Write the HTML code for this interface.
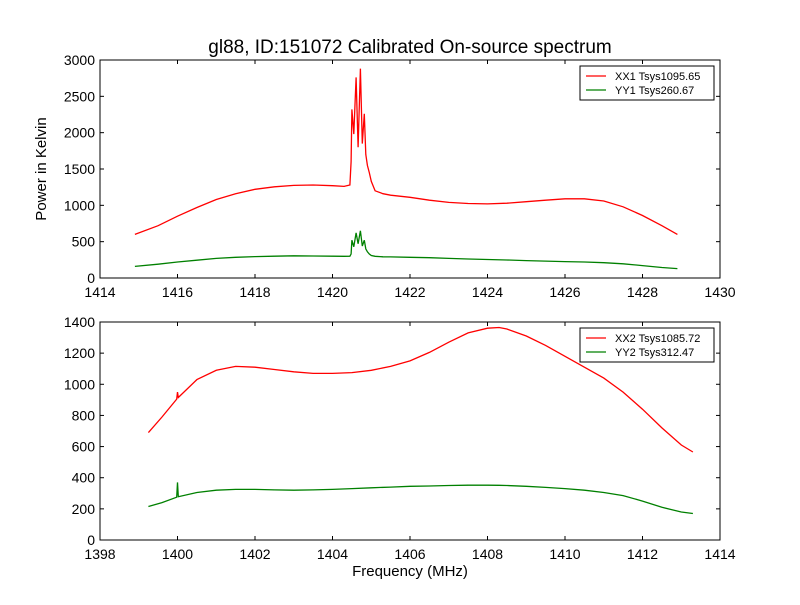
<!DOCTYPE html>
<html><head><meta charset="utf-8"><style>
body{margin:0;background:#fff;}
svg text{font-family:"Liberation Sans",sans-serif;}
</style></head><body>
<svg id="chart" width="800" height="600" xmlns="http://www.w3.org/2000/svg"></svg>
<script>
// Top panel data
const topFreq = [1414.9,1415.5,1416,1416.5,1417,1417.5,1418,1418.5,1419,1419.5,1420,1420.3,1420.45,1420.48,1420.5,1420.55,1420.61,1420.66,1420.72,1420.77,1420.82,1420.86,1420.9,1420.95,1421.0,1421.1,1421.3,1421.5,1422,1422.5,1423,1423.5,1424,1424.5,1425,1425.5,1426,1426.5,1427,1427.5,1428,1428.5,1428.9];
const topXX1 = [600,720,850,970,1080,1160,1220,1255,1275,1280,1270,1260,1280,1600,2320,1980,2760,1800,2880,1850,2260,1700,1550,1450,1330,1200,1160,1140,1110,1070,1040,1025,1020,1030,1050,1070,1090,1090,1060,980,860,720,600];
const topYY1 = [160,190,220,245,270,285,295,300,305,303,300,298,300,330,520,430,620,470,650,440,520,400,360,330,310,298,292,290,285,280,270,262,255,248,240,232,225,220,210,195,170,145,130];
// Bottom panel data
const botFreq = [1399.25,1399.6,1399.98,1400.0,1400.02,1400.5,1401,1401.5,1402,1402.5,1403,1403.5,1404,1404.5,1405,1405.5,1406,1406.5,1407,1407.5,1408,1408.3,1408.5,1409,1409.5,1410,1410.5,1411,1411.5,1412,1412.5,1413,1413.3];
const botXX2 = [690,790,905,950,915,1030,1090,1115,1110,1095,1080,1070,1070,1075,1090,1115,1150,1205,1270,1330,1360,1365,1355,1310,1250,1180,1110,1040,950,840,720,610,565];
const botYY2 = [215,240,275,370,278,305,320,325,325,322,320,322,325,330,335,340,345,347,350,352,352,351,350,345,338,330,320,305,285,250,210,180,170];
const topXTicks=[1414,1416,1418,1420,1422,1424,1426,1428,1430];
const topYTicks=[0,500,1000,1500,2000,2500,3000];
const botXTicks=[1398,1400,1402,1404,1406,1408,1410,1412,1414];
const botYTicks=[0,200,400,600,800,1000,1200,1400];

const NS="http://www.w3.org/2000/svg";
const svg=document.getElementById('chart');
function mk(tag,attrs,parent){const e=document.createElementNS(NS,tag);for(const k in attrs)e.setAttribute(k,attrs[k]);(parent||svg).appendChild(e);return e;}

function panel(name,top,xmin,xmax,ymax,xt,yt,freq,s1,s2,l1,l2){
  const L=100,R=720,T=top,B=top+218;
  const xs=v=>L+(v-xmin)/(xmax-xmin)*(R-L);
  const ys=v=>B-v/ymax*(B-T);
  const g=mk('g',{});
  
  
  mk('rect',{x:L,y:T,width:R-L,height:B-T,fill:'#fff',stroke:'none'},g);
  [[s1,'#ff0000',name+'-xx-line'],[s2,'#008000',name+'-yy-line']].forEach(([s,c,n])=>{
    const p=mk('polyline',{points:freq.map((f,i)=>xs(f).toFixed(1)+','+ys(s[i]).toFixed(1)).join(' '),fill:'none',stroke:c,'stroke-width':1.3},g);
    
    
  });
  mk('rect',{x:L,y:T,width:R-L,height:B-T,fill:'none',stroke:'#000','stroke-width':1},g);
  xt.forEach(v=>{const x=xs(v);
    mk('line',{x1:x,y1:B,x2:x,y2:B-4,stroke:'#000'},g);mk('line',{x1:x,y1:T,x2:x,y2:T+4,stroke:'#000'},g);
    const t=mk('text',{x:x,y:B+19,'text-anchor':'middle','font-size':14},g);t.textContent=v;
    });
  yt.forEach(v=>{const y=ys(v);
    mk('line',{x1:L,y1:y,x2:L+4,y2:y,stroke:'#000'},g);mk('line',{x1:R,y1:y,x2:R-4,y2:y,stroke:'#000'},g);
    const t=mk('text',{x:L-5,y:y+5,'text-anchor':'end','font-size':14},g);t.textContent=v;
    });
  const lg=mk('g',{},g);
  
  
  mk('rect',{x:580,y:T+6,width:134,height:34,fill:'#fff',stroke:'#000'},lg);
  [[l1,'#ff0000',T+16],[l2,'#008000',T+30]].forEach(([lab,c,y])=>{
    mk('line',{x1:586,y1:y,x2:606,y2:y,stroke:c,'stroke-width':1.3},lg);
    const t=mk('text',{x:615,y:y+4,'font-size':11},lg);t.textContent=lab;
    
  });
}
panel('top-panel',60,1414,1430,3000,topXTicks,topYTicks,topFreq,topXX1,topYY1,'XX1 Tsys1095.65','YY1 Tsys260.67');
panel('bottom-panel',322,1398,1414,1400,botXTicks,botYTicks,botFreq,botXX2,botYY2,'XX2 Tsys1085.72','YY2 Tsys312.47');

let t=mk('text',{x:410,y:53,'text-anchor':'middle','font-size':19});t.textContent='gl88, ID:151072 Calibrated On-source spectrum';

t=mk('text',{x:410,y:576,'text-anchor':'middle','font-size':15});t.textContent='Frequency (MHz)';

t=mk('text',{x:46,y:169,'text-anchor':'middle','font-size':15,transform:'rotate(-90 46 169)'});t.textContent='Power in Kelvin';

</script>
</body></html>
